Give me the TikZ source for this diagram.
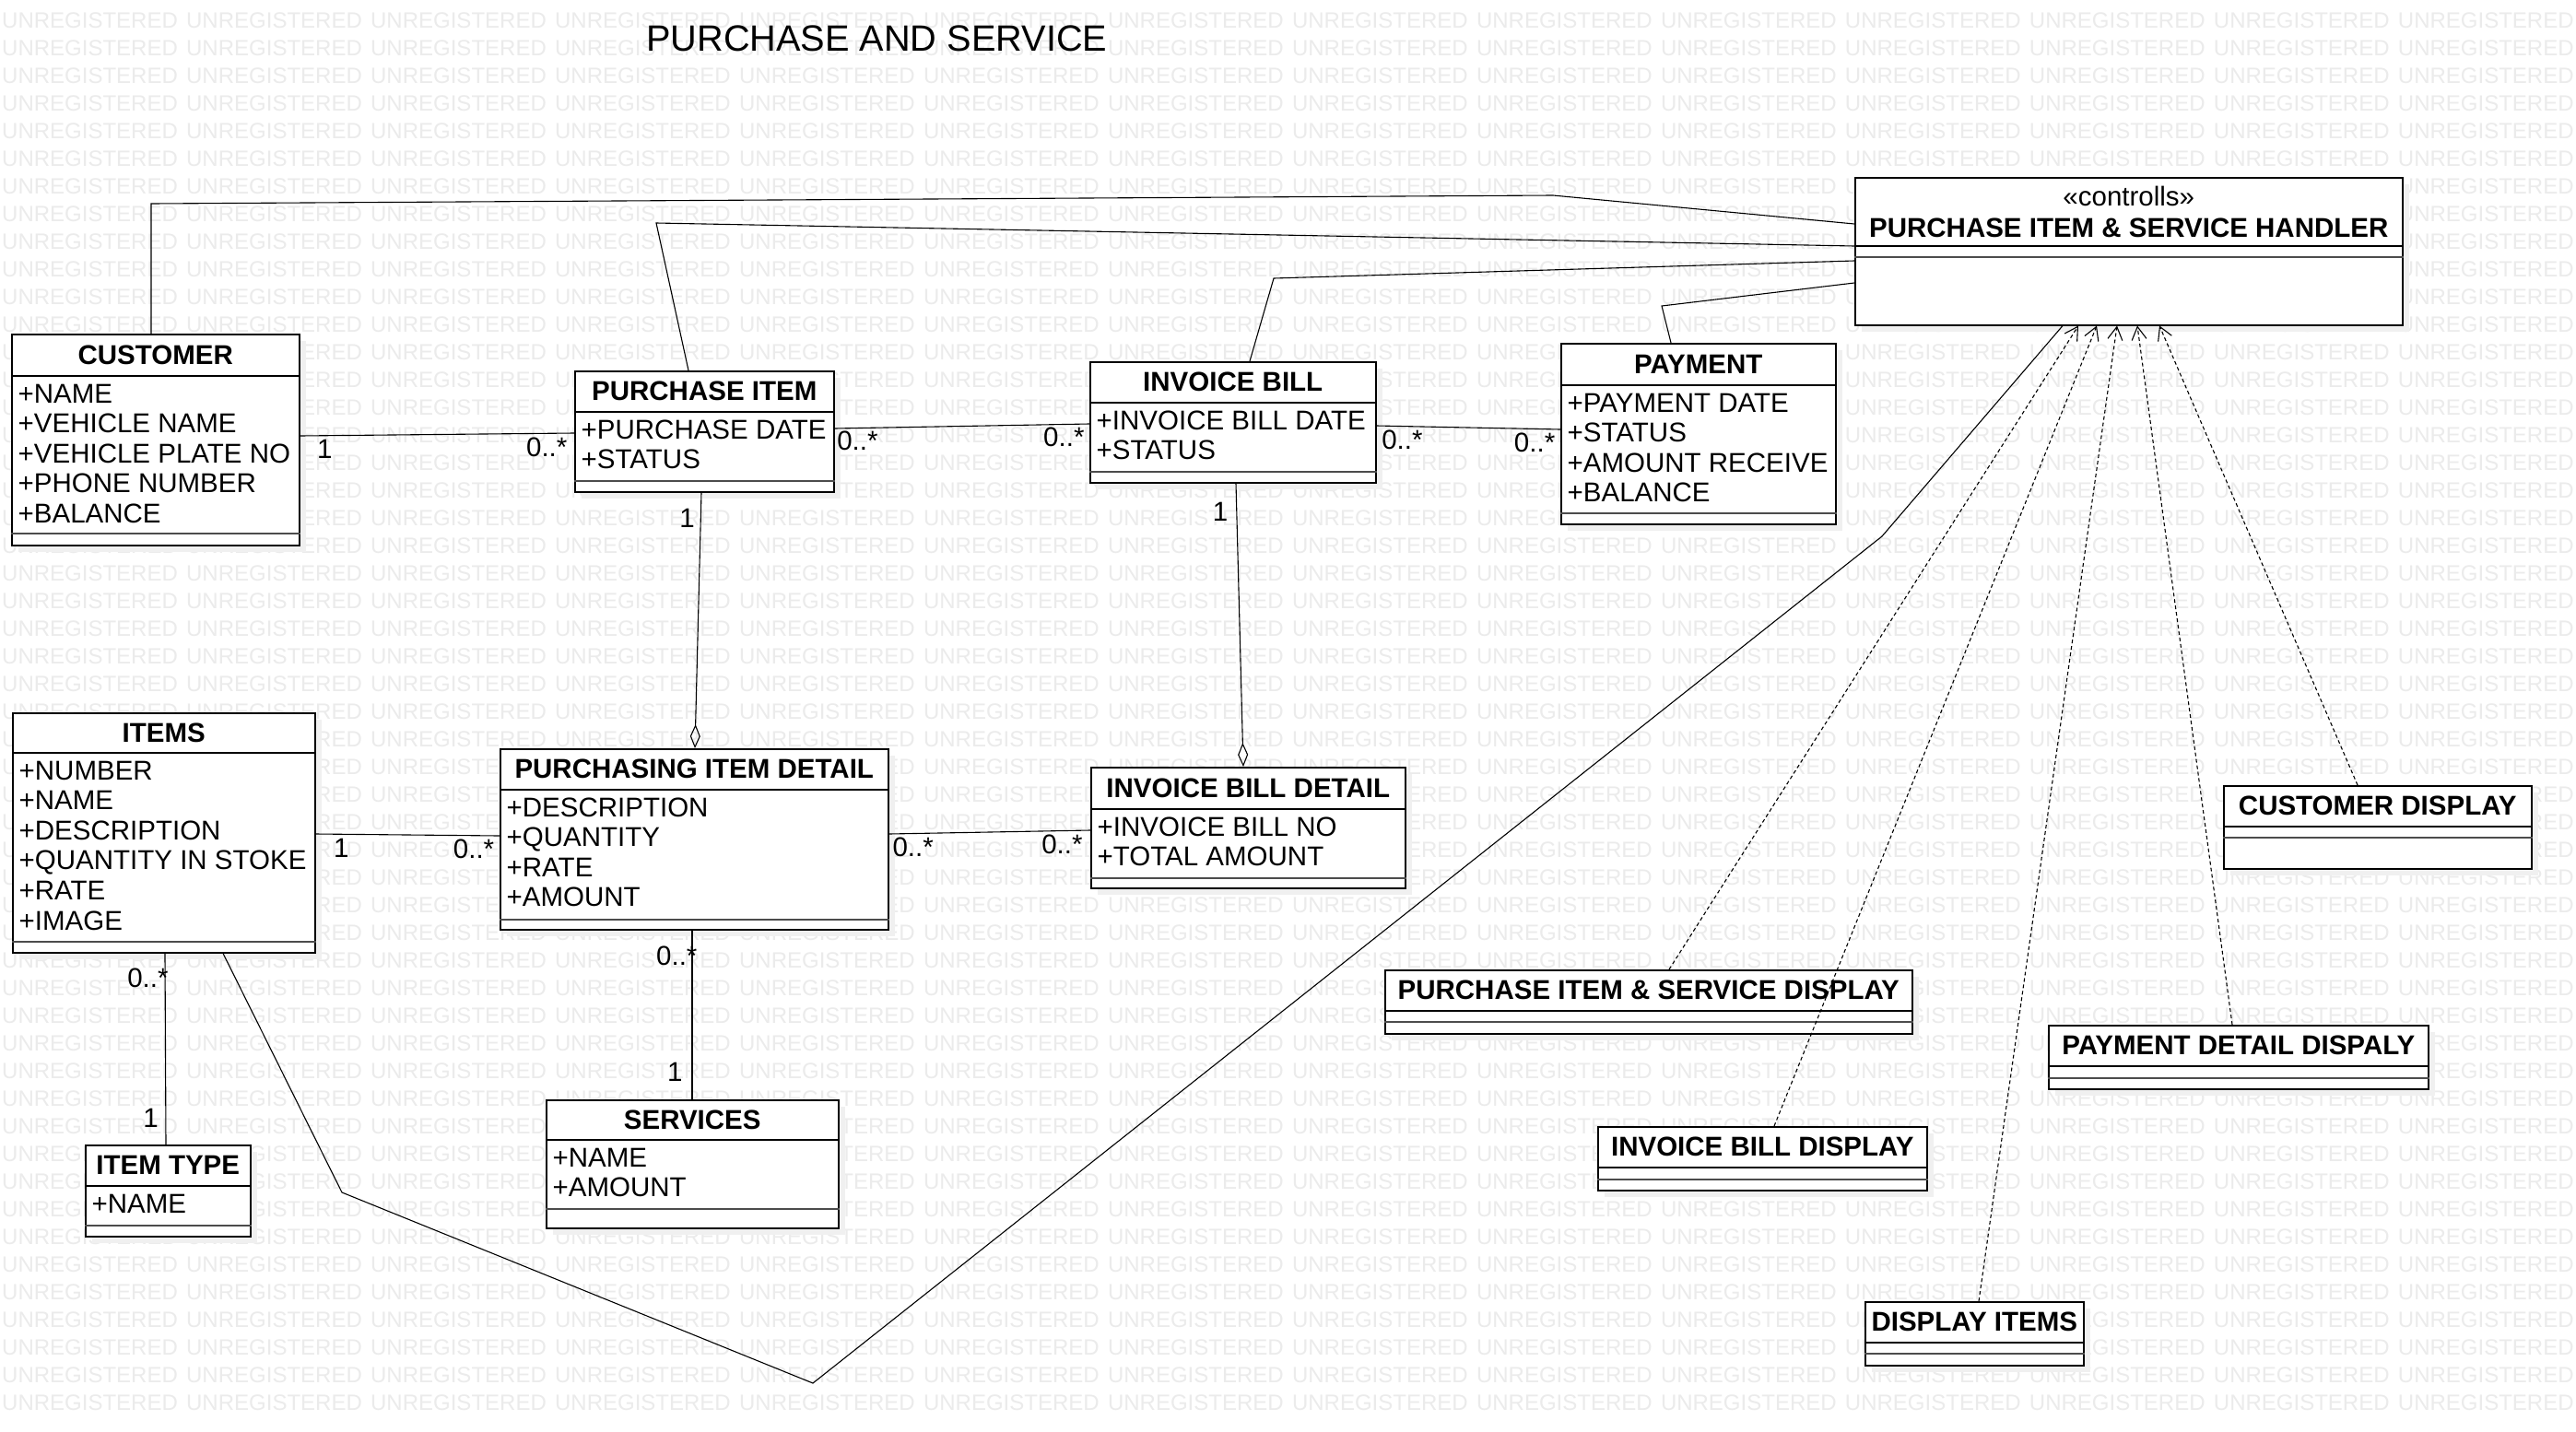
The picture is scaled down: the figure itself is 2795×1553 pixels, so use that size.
\documentclass[tikz,border=0pt]{standalone}
\usepackage{fontspec}
\setmainfont{Liberation Sans}
\usetikzlibrary{arrows.meta}

\newcommand{\wmword}{UNREGISTERED\hspace{9.3pt}}
\newcommand{\wmrow}{\wmword\wmword\wmword\wmword\wmword\wmword\wmword\wmword\wmword\wmword\wmword\wmword\wmword\wmword}

\begin{document}
\begin{tikzpicture}[x=1pt,y=-1pt,
	umlbox/.style={draw, line width=1.5pt, fill=white, anchor=north west, inner sep=0pt,
		preaction={fill=black!6, transform canvas={shift={(7pt,-7pt)}}}},
	sepline/.style={line width=1.5pt},
	opsline/.style={line width=2.2pt, black!70},
	clsname/.style={font=\fontsize{29.5}{33}\selectfont\bfseries, inner sep=0pt},
	stereo/.style={font=\fontsize{29.5}{33}\selectfont, inner sep=0pt},
	attrs/.style={font=\fontsize{29.5}{32.6}\selectfont, align=left, anchor=north west, inner sep=0pt, xshift=7.5pt},
	mult/.style={font=\fontsize{29.5}{33}\selectfont, inner sep=0pt},
	assoc/.style={line width=1.1pt},
	aggr/.style={line width=1.1pt, -{Diamond[open, length=26pt, width=11pt]}},
	depline/.style={line width=1.1pt, dash pattern=on 4pt off 3pt, -{Straight Barb[length=14pt, width=16pt]}},
	wmark/.style={font=\fontsize{24}{24}\selectfont, text=black!8, anchor=base west, inner sep=0pt},
	title/.style={font=\fontsize{39.7}{44}\selectfont, anchor=base west, inner sep=0pt}]

	\fill[white] (0,0) rectangle (2795,1553);
	\useasboundingbox (0,0) rectangle (2795,1553);

	% watermark
	\foreach \r in {0,...,50}
		\node[wmark] (wm\r) at (2,{30+30*\r}) {\wmrow};

	\node[title] (title) at (701,55) {PURCHASE AND SERVICE};

	% classes
	\node[umlbox, minimum width=312pt, minimum height=229pt] (customer) at (12,362) {};
	\draw[sepline] (customer.west |- 0,408) -- (customer.east |- 0,408);
	\draw[opsline] (customer.west |- 0,579) -- (customer.east |- 0,579);
	\node[clsname] (customerN) at (customer.north |- 0,385) {CUSTOMER};
	\node[attrs] (customerA) at (customer.west |- 0,414) {\strut+NAME\\+VEHICLE NAME\\+VEHICLE PLATE NO\\+PHONE NUMBER\\+BALANCE};

	\node[umlbox, minimum width=281pt, minimum height=131pt] (pitem) at (623,402) {};
	\draw[sepline] (pitem.west |- 0,447) -- (pitem.east |- 0,447);
	\draw[opsline] (pitem.west |- 0,522) -- (pitem.east |- 0,522);
	\node[clsname] (pitemN) at (pitem.north |- 0,424.5) {PURCHASE ITEM};
	\node[attrs] (pitemA) at (pitem.west |- 0,453) {\strut+PURCHASE DATE\\+STATUS};

	\node[umlbox, minimum width=310pt, minimum height=131pt] (ibill) at (1182,392) {};
	\draw[sepline] (ibill.west |- 0,437) -- (ibill.east |- 0,437);
	\draw[opsline] (ibill.west |- 0,512) -- (ibill.east |- 0,512);
	\node[clsname] (ibillN) at (ibill.north |- 0,414.5) {INVOICE BILL};
	\node[attrs] (ibillA) at (ibill.west |- 0,443) {\strut+INVOICE BILL DATE\\+STATUS};

	\node[umlbox, minimum width=298pt, minimum height=196pt] (payment) at (1693,372) {};
	\draw[sepline] (payment.west |- 0,418) -- (payment.east |- 0,418);
	\draw[opsline] (payment.west |- 0,557) -- (payment.east |- 0,557);
	\node[clsname] (paymentN) at (payment.north |- 0,395) {PAYMENT};
	\node[attrs] (paymentA) at (payment.west |- 0,424) {\strut+PAYMENT DATE\\+STATUS\\+AMOUNT RECEIVE\\+BALANCE};

	\node[umlbox, minimum width=594pt, minimum height=160pt] (handler) at (2012,192) {};
	\draw[sepline] (handler.west |- 0,267) -- (handler.east |- 0,267);
	\draw[opsline] (handler.west |- 0,279) -- (handler.east |- 0,279);
	\node[stereo] (handlerS) at (handler.north |- 0,213) {«controlls»};
	\node[clsname] (handlerN) at (handler.north |- 0,247) {PURCHASE ITEM \& SERVICE HANDLER};

	\node[umlbox, minimum width=328pt, minimum height=260pt] (items) at (13,773) {};
	\draw[sepline] (items.west |- 0,817) -- (items.east |- 0,817);
	\draw[opsline] (items.west |- 0,1022) -- (items.east |- 0,1022);
	\node[clsname] (itemsN) at (items.north |- 0,795) {ITEMS};
	\node[attrs] (itemsA) at (items.west |- 0,823) {\strut+NUMBER\\+NAME\\+DESCRIPTION\\+QUANTITY IN STOKE\\+RATE\\+IMAGE};

	\node[umlbox, minimum width=421pt, minimum height=196pt] (pid) at (542,812) {};
	\draw[sepline] (pid.west |- 0,857) -- (pid.east |- 0,857);
	\draw[opsline] (pid.west |- 0,998) -- (pid.east |- 0,998);
	\node[clsname] (pidN) at (pid.north |- 0,834.5) {PURCHASING ITEM DETAIL};
	\node[attrs] (pidA) at (pid.west |- 0,863) {\strut+DESCRIPTION\\+QUANTITY\\+RATE\\+AMOUNT};

	\node[umlbox, minimum width=341pt, minimum height=131pt] (ibd) at (1183,832) {};
	\draw[sepline] (ibd.west |- 0,878) -- (ibd.east |- 0,878);
	\draw[opsline] (ibd.west |- 0,953) -- (ibd.east |- 0,953);
	\node[clsname] (ibdN) at (ibd.north |- 0,855) {INVOICE BILL DETAIL};
	\node[attrs] (ibdA) at (ibd.west |- 0,884) {\strut+INVOICE BILL NO\\+TOTAL AMOUNT};

	\node[umlbox, minimum width=179pt, minimum height=99pt] (itemtype) at (92,1242) {};
	\draw[sepline] (itemtype.west |- 0,1287) -- (itemtype.east |- 0,1287);
	\draw[opsline] (itemtype.west |- 0,1330) -- (itemtype.east |- 0,1330);
	\node[clsname] (itemtypeN) at (itemtype.north |- 0,1264.5) {ITEM TYPE};
	\node[attrs] (itemtypeA) at (itemtype.west |- 0,1293) {\strut+NAME};

	\node[umlbox, minimum width=317pt, minimum height=139pt] (services) at (592,1193) {};
	\draw[sepline] (services.west |- 0,1237) -- (services.east |- 0,1237);
	\draw[opsline] (services.west |- 0,1312) -- (services.east |- 0,1312);
	\node[clsname] (servicesN) at (services.north |- 0,1215) {SERVICES};
	\node[attrs] (servicesA) at (services.west |- 0,1243) {\strut+NAME\\+AMOUNT};

	% display classes
	\node[umlbox, minimum width=572pt, minimum height=69pt] (pisd) at (1502,1052) {};
	\draw[sepline] (pisd.west |- 0,1097) -- (pisd.east |- 0,1097);
	\draw[opsline] (pisd.west |- 0,1109) -- (pisd.east |- 0,1109);
	\node[clsname] (pisdN) at (pisd.north |- 0,1074.5) {PURCHASE ITEM \& SERVICE DISPLAY};

	\node[umlbox, minimum width=412pt, minimum height=69pt] (pdd) at (2222,1112) {};
	\draw[sepline] (pdd.west |- 0,1157) -- (pdd.east |- 0,1157);
	\draw[opsline] (pdd.west |- 0,1170) -- (pdd.east |- 0,1170);
	\node[clsname] (pddN) at (pdd.north |- 0,1134.5) {PAYMENT DETAIL DISPALY};

	\node[umlbox, minimum width=357pt, minimum height=69pt] (ibdisp) at (1733,1222) {};
	\draw[sepline] (ibdisp.west |- 0,1267) -- (ibdisp.east |- 0,1267);
	\draw[opsline] (ibdisp.west |- 0,1280) -- (ibdisp.east |- 0,1280);
	\node[clsname] (ibdispN) at (ibdisp.north |- 0,1244.5) {INVOICE BILL DISPLAY};

	\node[umlbox, minimum width=237pt, minimum height=69pt] (dispitems) at (2023,1412) {};
	\draw[sepline] (dispitems.west |- 0,1457) -- (dispitems.east |- 0,1457);
	\draw[opsline] (dispitems.west |- 0,1469) -- (dispitems.east |- 0,1469);
	\node[clsname] (dispitemsN) at (dispitems.north |- 0,1434.5) {DISPLAY ITEMS};

	\node[umlbox, minimum width=334pt, minimum height=90pt] (custdisp) at (2412,852) {};
	\draw[sepline] (custdisp.west |- 0,897) -- (custdisp.east |- 0,897);
	\draw[opsline] (custdisp.west |- 0,909) -- (custdisp.east |- 0,909);
	\node[clsname] (custdispN) at (custdisp.north |- 0,874.5) {CUSTOMER DISPLAY};

	% associations to the handler
	\draw[assoc] (customer.north -| 164,0) -- (164,221) -- (1685,212) -- (handler.west |- 0,243);
	\draw[assoc] (pitem.north -| 747,0) -- (712,242) -- (handler.west |- 0,267);
	\draw[assoc] (ibill.north -| 1356,0) -- (1382,302) -- (handler.west |- 0,283);
	\draw[assoc] (payment.north -| 1813,0) -- (1803,332) -- (handler.west |- 0,307);
	\draw[assoc] (items.south -| 242,0) -- (371,1294) -- (882,1501) -- (2042,582) -- (handler.south -| 2238,0);

	% associations between classes
	\draw[assoc] (customer.east |- 0,473) -- node[mult, pos=0.09, below=4pt] (m1) {1}
		node[mult, pos=0.9, below=4pt] (m2) {0..*} (pitem.west |- 0,470);
	\draw[assoc] (pitem.east |- 0,465) -- node[mult, pos=0.09, below=3pt] (m3) {0..*}
		node[mult, pos=0.9, below=3pt] (m4) {0..*} (ibill.west |- 0,460);
	\draw[assoc] (ibill.east |- 0,462) -- node[mult, pos=0.14, below=4pt] (m5) {0..*}
		node[mult, pos=0.86, below=4pt] (m6) {0..*} (payment.west |- 0,466);
	\draw[assoc] (items.east |- 0,905) -- node[mult, pos=0.14, below=4pt] (m7) {1}
		node[mult, pos=0.86, below=4pt] (m8) {0..*} (pid.west |- 0,907);
	\draw[assoc] (pid.east |- 0,905) -- node[mult, pos=0.12, below=4pt] (m9) {0..*}
		node[mult, pos=0.86, below=4pt] (m10) {0..*} (ibd.west |- 0,901);
	\draw[aggr] (pitem.south -| 761,0) -- node[mult, pos=0.1, left=6pt] (m11) {1} (pid.north -| 754,0);
	\draw[aggr] (ibill.south -| 1341,0) -- node[mult, pos=0.1, left=9pt] (m12) {1} (ibd.north -| 1349,0);
	\draw[assoc] (pid.south -| 751,0) -- node[mult, pos=0.15, left=-6pt] (m13) {0..*}
		node[mult, pos=0.84, left=10pt] (m14) {1} (services.north -| 751,0);
	\draw[assoc] (items.south -| 179,0) -- node[mult, pos=0.13, left=-4pt] (m15) {0..*}
		node[mult, pos=0.86, left=7.5pt] (m16) {1} (itemtype.north -| 180,0);

	% dependencies of the displays
	\draw[depline] (pisd.north -| 1811,0) -- (handler.south -| 2255,0);
	\draw[depline] (ibdisp.north -| 1925,0) -- (handler.south -| 2275,0);
	\draw[depline] (dispitems.north -| 2147,0) -- (handler.south -| 2297,0);
	\draw[depline] (pdd.north -| 2422,0) -- (handler.south -| 2319,0);
	\draw[depline] (custdisp.north -| 2558,0) -- (handler.south -| 2343,0);
\end{tikzpicture}
\end{document}
